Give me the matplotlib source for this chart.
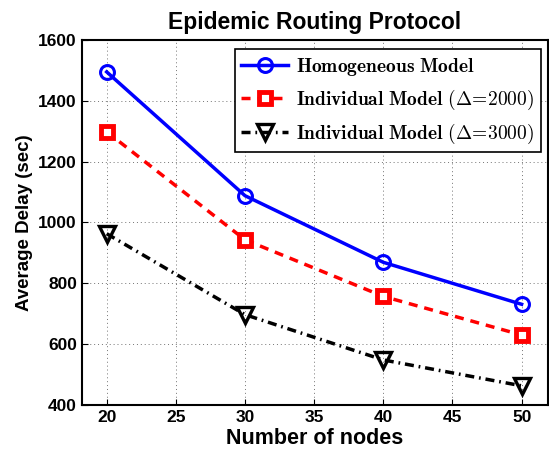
import numpy as np
import matplotlib
matplotlib.use("Agg")
import matplotlib.pyplot as plt

plt.rcParams.update({'font.family': 'Liberation Sans', 'font.weight': 'bold',
                     'mathtext.fontset': 'cm'})

nodes = [20, 30, 40, 50]
homogeneous = [1495, 1088, 869, 731]
indiv_2000 = [1298, 943, 757, 630]
indiv_3000 = [963, 697, 548, 463]

fig = plt.figure(figsize=(5.49, 4.54), dpi=100)
ax = fig.add_axes([0.149, 0.108, 0.849, 0.804])

ax.plot(nodes, homogeneous, '-', color='b', lw=2.5, marker='o', ms=10,
        mfc='none', mec='b', mew=2.2, label=r'$\mathbf{Homogeneous\ Model}$')
ax.plot(nodes, indiv_2000, '--', color='r', lw=2.5, dashes=(2.6, 2.0), marker='s', ms=9,
        mfc='w', mec='r', mew=3.5,
        label=r'$\mathbf{Individual\ Model\ }\boldsymbol{(\Delta\!=\!2000)}$')
ax.plot(nodes, indiv_3000, '-.', color='k', lw=2.5, dashes=(2.6, 1.4, 0.5, 1.4), marker='v', ms=11,
        mfc='none', mec='k', mew=2.4,
        label=r'$\mathbf{Individual\ Model\ }\boldsymbol{(\Delta\!=\!3000)}$')

ax.set_xlim(18.2, 51.9)
ax.set_ylim(400, 1600)
ax.set_xticks([20, 25, 30, 35, 40, 45, 50])
ax.set_yticks([400, 600, 800, 1000, 1200, 1400, 1600])
ax.grid(True, linestyle=(0, (1, 3)), color='0.45', lw=0.7)
ax.tick_params(direction='in', labelsize=12.5, length=4)
for sp in ax.spines.values():
    sp.set_linewidth(1.5)

ax.set_xlabel('Number of nodes', fontsize=15.5, fontweight='bold', labelpad=2)
ax.set_ylabel('Average Delay (sec)', fontsize=13.5, fontweight='bold')
ax.set_title('Epidemic Routing Protocol', fontsize=16.5, fontweight='bold', pad=8)

leg = ax.legend(loc='upper right', fontsize=14, fancybox=False, edgecolor='k',
                framealpha=1, borderpad=0.35, handlelength=2.4, handletextpad=0.4,
                labelspacing=0.5, borderaxespad=0,
                bbox_to_anchor=(0.985, 0.975))
leg.get_frame().set_linewidth(1.2)

fig.savefig('out.png', dpi=100)
